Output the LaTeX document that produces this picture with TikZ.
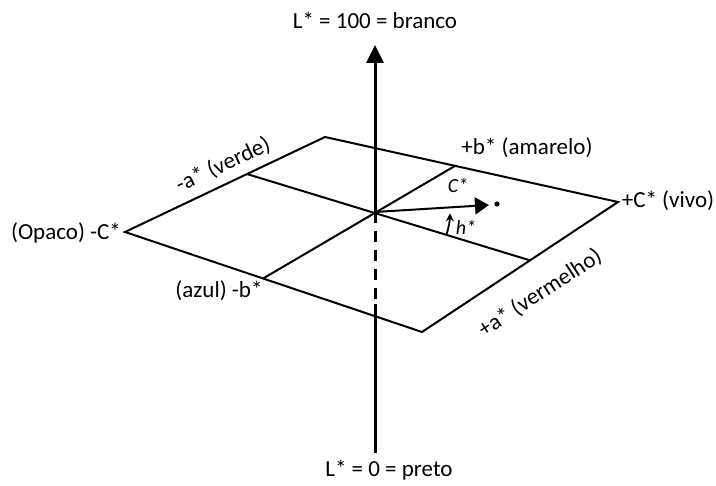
\documentclass[tikz,border=0pt]{standalone}
\usepackage{fontspec}
\setmainfont{Carlito}
\usetikzlibrary{arrows, arrows.meta, positioning, calc}
\tikzstyle{axisline} = [line width=3pt, -{Triangle[length=18pt,width=17pt]}]
\tikzstyle{edge}     = [line width=2pt, line join=miter]
\tikzstyle{txt}      = [font=\fontsize{23}{27}\selectfont, inner sep=1pt]
\tikzstyle{small}    = [font=\fontsize{20}{24}\selectfont\itshape, inner sep=1pt]

\begin{document}
\begin{tikzpicture}[x=1pt, y=-1pt]
\useasboundingbox (0,0) rectangle (716,486);

% corners of the a*b* plane
\coordinate (O) at (375,212);
\coordinate (PL) at (125,232);
\coordinate (PT) at (325,137);
\coordinate (PR) at (618,202);
\coordinate (PB) at (422,332);

% ends of the a* and b* lines
\coordinate (Am) at ($(PL)!0.61!(PT)$);
\coordinate (Ap) at ($(PR)!0.449!(PB)$);
\coordinate (Bp) at ($(PT)!0.444!(PR)$);
\coordinate (Bm) at ($(PL)!0.465!(PB)$);

% lightness axis
\coordinate (Ltip) at (375,45);
\coordinate (Dend) at (375,300);
\coordinate (Sbeg) at (375,304);
\coordinate (Lend) at (375,453);

\draw[edge] (PL) -- (PT) -- (PR) -- (PB) -- cycle;
\draw[edge] (Am) -- (Ap);
\draw[edge] (Bp) -- (Bm);

\draw[axisline] (O) -- (Ltip);
\draw[line width=3pt, dash pattern=on 11pt off 8pt] (O) -- (Dend);
\draw[line width=3pt] (Sbeg) -- (Lend);

% chroma vector and hue angle
\coordinate (Ctip) at (489,205);
\draw[line width=2pt, -{Triangle[length=14pt,width=17pt]}] (O) -- (Ctip);
\fill (497,204) circle (2.6);
\draw[line width=1.8pt, -{Stealth[length=8pt,width=8pt]}] (O) ++(17:75) arc (17:1:75);

\node[small] (Clab) at (458,185) {C*};
\node[small] (hlab) at (466,227) {h*};

% labels
\node[txt] (Ltop) at (375,20) {L* = 100 = branco};
\node[txt] (Lbot) at (389,470) {L* = 0 = preto};
\node[txt] (bplus) at (527,148) {+b* (amarelo)};
\node[txt] (bminus) at (219,291) {(azul) -b*};
\node[txt] (cminus) at (66,233) {(Opaco) -C*};
\node[txt] (cplus) at (668,201) {+C* (vivo)};
\node[txt, rotate=25] (aminus) at (223,165) {-a* (verde)};
\node[txt, rotate=33] (aplus) at (540,293) {+a* (vermelho)};
\end{tikzpicture}
\end{document}
